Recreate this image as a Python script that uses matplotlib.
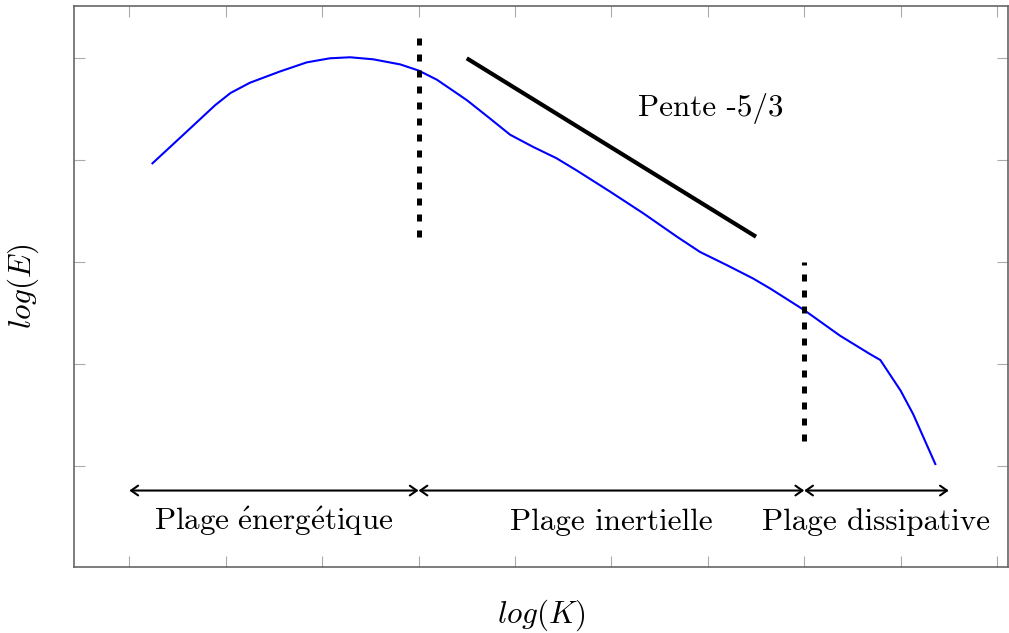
import numpy as np
import matplotlib
matplotlib.use("Agg")
import matplotlib.pyplot as plt
from matplotlib.patches import FancyArrowPatch

plt.rcParams["mathtext.fontset"] = "cm"
plt.rcParams["font.family"] = ["cmr10", "DejaVu Serif"]
plt.rcParams["axes.formatter.use_mathtext"] = True

# spectrum curve
spec_x = [1.24, 1.56, 1.89, 2.05, 2.25, 2.56, 2.84, 3.08, 3.29, 3.53,
          3.81, 4.00, 4.19, 4.50, 4.74, 4.95, 5.19, 5.43, 5.64, 5.99,
          6.33, 6.68, 6.92, 7.20, 7.47, 7.65, 8.00, 8.37, 8.68, 8.79,
          9.00, 9.13, 9.36]
spec_y = [3.97, 4.25, 4.54, 4.66, 4.76, 4.87, 4.96, 5.00, 5.01, 4.99,
          4.94, 4.88, 4.79, 4.59, 4.41, 4.25, 4.13, 4.02, 3.90, 3.69,
          3.48, 3.25, 3.10, 2.97, 2.84, 2.74, 2.53, 2.28, 2.10, 2.04,
          1.74, 1.51, 1.02]

# -5/3 slope segment
slope_x = [4.5, 7.5]
slope_y = [5.0, 3.25]

# range separators
sep_x = [4.0, 8.0]
sep_top = [5.2, 3.0]
sep_bot = [3.25, 1.25]

# ranges
range_start = [1.0, 4.0, 8.0]
range_end = [4.0, 8.0, 9.5]
range_names = [r"$\mathrm{Plage\ \acute{e}nerg\acute{e}tique}$",
               "Plage inertielle", "Plage dissipative"]
range_label_x = [2.5, 6.0, 8.75]
arrow_y = 0.76
label_y = 0.37

x_ticks = [1, 2, 3, 4, 5, 6, 7, 8, 9, 10]
y_ticks = [1, 2, 3, 4, 5]

fs = 22.4

fig = plt.figure(figsize=(10.09, 6.33), dpi=100)
ax = fig.add_axes([74 / 1009, 65.7 / 633, 934 / 1009, 561.3 / 633])

ax.plot(spec_x, spec_y, color="#0000ff", linewidth=1.5, zorder=3)
ax.plot(slope_x, slope_y, color="black", linewidth=3.0, solid_capstyle="butt", zorder=3)
for sx, st, sb in zip(sep_x, sep_top, sep_bot):
    ax.plot([sx, sx], [sb, st], color="black", linewidth=3.6,
            linestyle=(0, (1.4, 1.8)), dash_capstyle="butt", zorder=4)

for a, b in zip(range_start, range_end):
    arr = FancyArrowPatch((a, arrow_y), (b, arrow_y),
                          arrowstyle="<->,head_length=5,head_width=3.5",
                          color="black", linewidth=1.5,
                          shrinkA=0, shrinkB=0, mutation_scale=1)
    ax.add_patch(arr)

for name, lx in zip(range_names, range_label_x):
    ax.text(lx, label_y, name, ha="center", va="baseline", fontsize=fs)

ax.text(7.03, 4.43, "Pente -5/3", ha="center", va="baseline", fontsize=fs)

ax.set_xlim(0.426, 10.114)
ax.set_ylim(0.007, 5.513)
ax.set_xticks(x_ticks)
ax.set_yticks(y_ticks)
ax.set_xticklabels([])
ax.set_yticklabels([])
ax.tick_params(direction="in", length=8, width=0.8, color="#aaaaaa",
               top=True, right=True)
for sp in ax.spines.values():
    sp.set_color("#666666")
    sp.set_linewidth(1.2)

ax.set_xlabel(r"$log(K)$", fontsize=fs, labelpad=18)
ax.set_ylabel(r"$log(E)$", fontsize=fs, labelpad=20)

fig.savefig("out.png", dpi=100)
